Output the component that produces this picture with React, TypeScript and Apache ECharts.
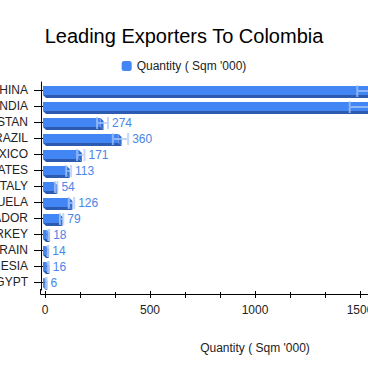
import React, { useEffect, useRef } from "react";
import * as echarts from "echarts";

const categories = [
  "CHINA",
  "INDIA",
  "PAKISTAN",
  "BRAZIL",
  "MEXICO",
  "UNITED STATES",
  "ITALY",
  "VENEZUELA",
  "ECUADOR",
  "TURKEY",
  "BAHRAIN",
  "INDONESIA",
  "EGYPT",
];
const quantities = [1650, 1610, 274, 360, 171, 113, 54, 126, 79, 18, 14, 16, 6];
const errorLow = [1487, 1451, 248, 323, 153, 101, 48, 113, 71, 16, 12, 14, 5];
const errorHigh = [1815, 1771, 300, 396, 188, 124, 59, 139, 87, 20, 16, 18, 7];
const seriesName = "Quantity ( Sqm '000)";
const titleText = "Leading Exporters To Colombia";

const FONT = "Arial, 'Liberation Sans', sans-serif";

export default function App() {
  const ref = useRef<HTMLDivElement>(null);
  useEffect(() => {
    if (!ref.current) return;
    const chart = echarts.init(ref.current, undefined, { renderer: "svg" });
    const barData = quantities.map((v, i) => [v, i]);
    const errData = quantities.map((v, i) => [errorLow[i], errorHigh[i], i, v]);
    chart.setOption({
      animation: false,
      backgroundColor: "#ffffff",
      textStyle: { fontFamily: FONT },
      title: {
        text: titleText,
        left: "center",
        top: 21,
        textStyle: { fontSize: 20, fontWeight: "normal", color: "#000", fontFamily: FONT },
      },
      legend: {
        data: [{ name: seriesName, icon: "roundRect" }],
        top: 55,
        left: "center",
        itemWidth: 10,
        itemHeight: 10,
        textStyle: { fontSize: 12, color: "#222", fontFamily: FONT },
      },
      grid: {
        left: 45,
        top: 82,
        width: 420,
        height: 208,
        containLabel: false,
        outerBoundsMode: "none",
      },
      xAxis: [
        {
          type: "value",
          min: 0,
          max: 2000,
          interval: 500,
          offset: 4,
          name: seriesName,
          nameLocation: "middle",
          nameGap: 48,
          nameTextStyle: { fontSize: 12, color: "#222", fontFamily: FONT },
          axisLine: { show: true, onZero: false, lineStyle: { color: "#000" } },
          axisTick: { show: true, length: 4, lineStyle: { color: "#000" } },
          minorTick: { show: true, splitNumber: 3, length: 4, lineStyle: { color: "#000" } },
          splitLine: { show: false },
          axisLabel: {
            fontSize: 12,
            color: "#222",
            margin: 10,
            fontFamily: FONT,
            formatter: (v: number) => String(v),
          },
        },
        {
          type: "value",
          min: 0,
          max: 2000,
          interval: 500,
          offset: 4,
          position: "bottom",
          axisLine: { show: false, onZero: false },
          axisTick: { show: true, inside: true, length: 3, lineStyle: { color: "#000" } },
          minorTick: { show: true, splitNumber: 3, length: 2, lineStyle: { color: "#000" } },
          splitLine: { show: false },
          axisLabel: { show: false },
        },
      ],
      yAxis: [
        {
          type: "category",
          data: categories,
          inverse: true,
          offset: 4,
          axisLine: { show: true, onZero: false, lineStyle: { color: "#000" } },
          axisTick: { show: true, alignWithLabel: true, length: 7, lineStyle: { color: "#000" } },
          axisLabel: { fontSize: 12, color: "#222", margin: 13, fontFamily: FONT },
        },
        {
          type: "category",
          data: categories,
          inverse: true,
          offset: 4,
          position: "left",
          axisLine: { show: false, onZero: false },
          axisTick: { show: true, inside: true, alignWithLabel: true, length: 6, lineStyle: { color: "#000" } },
          axisLabel: { show: false },
        },
      ],
      graphic: [
        { type: "line", shape: { x1: 40.5, y1: 289, x2: 40.5, y2: 294.5 }, style: { stroke: "#000", lineWidth: 1 } },
        { type: "line", shape: { x1: 40.5, y1: 294.5, x2: 46, y2: 294.5 }, style: { stroke: "#000", lineWidth: 1 } },
      ],
      series: [
        {
          name: seriesName,
          type: "custom",
          xAxisIndex: 0,
          yAxisIndex: 0,
          itemStyle: { color: "#4285f4" },
          encode: { x: 0, y: 1 },
          data: barData,
          renderItem: (params: any, api: any) => {
            const i = api.value(1);
            const v = api.value(0);
            const s = api.coord([0, i]);
            const e = api.coord([v, i]);
            const c = s[1];
            const x0 = s[0] - 2;
            const x1 = e[0] - 2;
            return {
              type: "group",
              children: [
                {
                  type: "polygon",
                  shape: { points: [[x0, c + 5], [x1, c + 5], [x1 + 3, c + 8], [x0 + 3, c + 8]] },
                  style: { fill: "#2d5bb0" },
                },
                {
                  type: "polygon",
                  shape: { points: [[x1, c - 4], [x1 + 3, c - 1], [x1 + 3, c + 8], [x1, c + 5]] },
                  style: { fill: "#356fd3" },
                },
                {
                  type: "rect",
                  shape: { x: x0, y: c - 4, width: Math.max(x1 - x0, 0), height: 9 },
                  style: { fill: "#4285f4" },
                },
              ],
            };
          },
        },
        {
          name: "error",
          type: "custom",
          xAxisIndex: 0,
          yAxisIndex: 0,
          encode: { x: [0, 1], y: 2 },
          data: errData,
          renderItem: (params: any, api: any) => {
            const i = api.value(2);
            const lo = api.coord([api.value(0), i]);
            const hi = api.coord([api.value(1), i]);
            const c = lo[1];
            const fill = "rgba(170,200,250,0.72)";
            return {
              type: "group",
              children: [
                { type: "rect", shape: { x: lo[0] + 1, y: c, width: Math.max(hi[0] - lo[0] - 2, 0), height: 2 }, style: { fill } },
                { type: "rect", shape: { x: lo[0] - 1, y: c - 5, width: 2, height: 12 }, style: { fill } },
                { type: "rect", shape: { x: hi[0] - 1, y: c - 5, width: 2, height: 12 }, style: { fill } },
                {
                  type: "text",
                  x: hi[0] + 4,
                  y: c + 1,
                  style: {
                    text: String(api.value(3)),
                    fill: "#4a86e8",
                    fontSize: 12,
                    fontFamily: FONT,
                    align: "left",
                    verticalAlign: "middle",
                  },
                },
              ],
            };
          },
        },
      ],
    });
    return () => chart.dispose();
  }, []);
  return (
    <div
      ref={ref}
      style={{ position: "fixed", left: 0, top: 0, width: 368, height: 371, overflow: "hidden", background: "#fff" }}
    />
  );
}
